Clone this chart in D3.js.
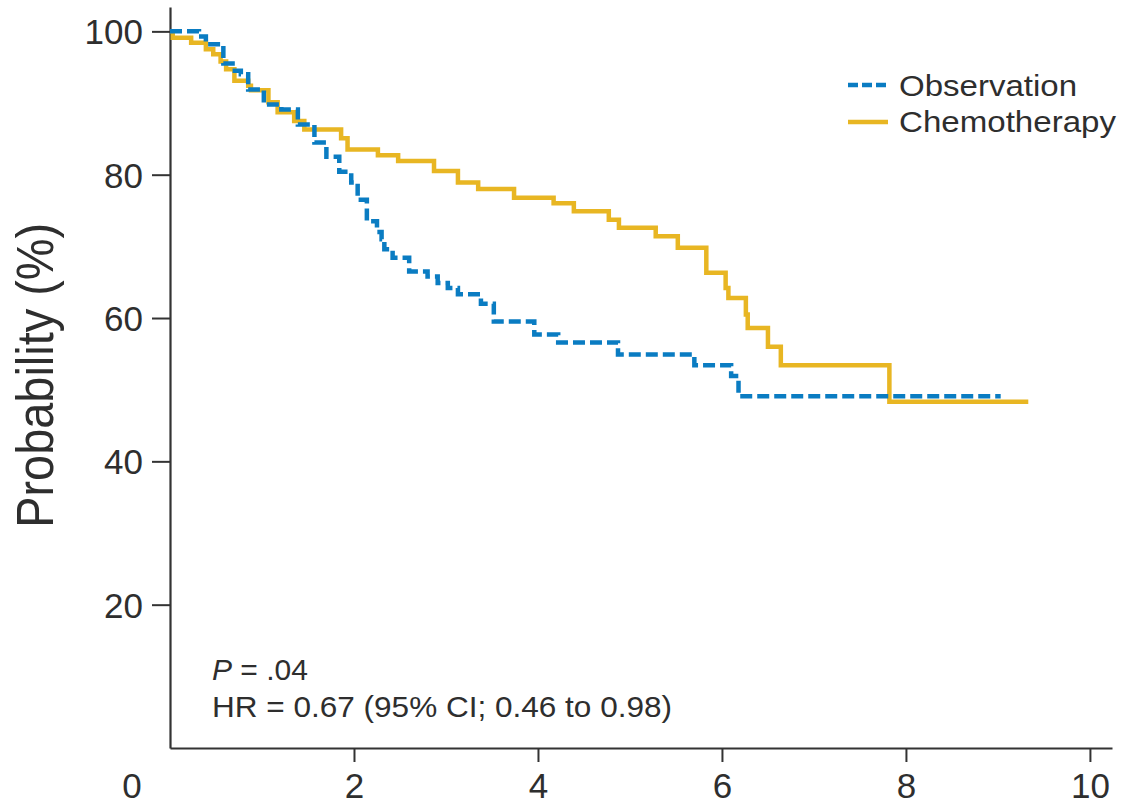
<!DOCTYPE html>
<html>
<head>
<meta charset="utf-8">
<script src="https://cdn.jsdelivr.net/npm/d3@7"></script>
<style>
  html, body { margin: 0; padding: 0; background: #fff; }
  svg { display: block; }
  text { font-family: "Liberation Sans", Arial, Helvetica, sans-serif; fill: #2e2e2e; }
</style>
</head>
<body>
<svg id="chart" width="1122" height="805"></svg>
<script>
// ---- Data ----
const obsTimes = [0, 0.315, 0.39, 0.58, 0.68, 0.77, 0.85, 1.02, 1.21, 1.39, 1.57, 1.70, 1.84, 1.97, 2.04, 2.14, 2.25, 2.30, 2.33, 2.42, 2.60, 2.80, 2.91, 3.02, 3.13, 3.38, 3.52, 3.96, 4.22, 4.87, 5.70, 6.10, 6.18, 9.03];
const obsValues = [100, 99.3, 98.2, 95.5, 94.5, 94.0, 91.9, 89.8, 89.1, 87.0, 84.5, 82.5, 80.4, 78.9, 76.5, 73.5, 72.0, 71.0, 69.6, 68.4, 66.5, 65.8, 64.9, 64.2, 63.3, 62.0, 59.5, 57.7, 56.6, 54.9, 53.4, 51.9, 49.1, 49.1];

const chemoTimes = [0, 0.03, 0.23, 0.39, 0.47, 0.55, 0.61, 0.70, 0.85, 0.88, 1.07, 1.17, 1.35, 1.46, 1.86, 1.93, 2.26, 2.48, 2.87, 3.13, 3.35, 3.74, 4.17, 4.39, 4.77, 4.88, 5.28, 5.52, 5.83, 6.04, 6.07, 6.26, 6.28, 6.50, 6.64, 7.82, 9.33];
const chemoValues = [100, 99.1, 98.4, 97.5, 96.8, 95.8, 94.7, 93.1, 92.4, 91.8, 90.1, 88.7, 87.5, 86.3, 85.1, 83.5, 82.7, 81.9, 80.5, 78.9, 78.0, 76.8, 76.0, 74.9, 73.7, 72.6, 71.4, 69.8, 66.3, 64.2, 62.8, 60.5, 58.6, 56.0, 53.4, 48.3, 48.3];

const seriesNames = ["Observation", "Chemotherapy"];
const xTicks = [2, 4, 6, 8, 10];
const yTicks = [20, 40, 60, 80, 100];
const xLabelZero = "0";
const yAxisTitle = "Probability (%)";
const statP = ".04";
const statHR = "HR = 0.67 (95% CI; 0.46 to 0.98)";

// ---- Layout ----
const svg = d3.select("#chart");
const axisColor = "#333333";
const blue = "#0a7cc2";
const yellow = "#e8b623";

const x = d3.scaleLinear().domain([0, 10.24]).range([170, 1112]);
const y = d3.scaleLinear().domain([0, 103.4]).range([748, 7]);

// Axes
const xAxis = d3.axisBottom(x).tickValues(xTicks).tickSize(14).tickPadding(12).tickSizeOuter(0).tickFormat(d3.format("d"));
const gx = svg.append("g").attr("transform", `translate(0,${y(0)})`).call(xAxis);
gx.select(".domain").attr("stroke", axisColor).attr("stroke-width", 2.2);
gx.selectAll(".tick line").attr("stroke", axisColor).attr("stroke-width", 2);
gx.selectAll(".tick text").attr("font-size", 35).attr("dy", null).attr("y", 50)
  .style("font-family", "'Liberation Sans', Arial, sans-serif").attr("fill", "#2e2e2e");

const yAxis = d3.axisLeft(y).tickValues(yTicks).tickSize(18).tickPadding(9).tickSizeOuter(0).tickFormat(d3.format("d"));
const gy = svg.append("g").attr("transform", `translate(${x(0)},0)`).call(yAxis);
gy.select(".domain").attr("stroke", axisColor).attr("stroke-width", 2.2);
gy.selectAll(".tick line").attr("stroke", axisColor).attr("stroke-width", 2);
gy.selectAll(".tick text").attr("font-size", 35).attr("dy", "0.36em")
  .style("font-family", "'Liberation Sans', Arial, sans-serif").attr("fill", "#2e2e2e");

// Lone "0" label at lower-left
svg.append("text")
  .attr("x", x(0) - 38).attr("y", y(0) + 50)
  .attr("text-anchor", "middle").attr("font-size", 35)
  .text(xLabelZero);

// Y axis title
svg.append("text")
  .attr("transform", `translate(53,${y(52)}) rotate(-90)`)
  .attr("text-anchor", "middle")
  .attr("font-size", 52)
  .attr("textLength", 305).attr("lengthAdjust", "spacingAndGlyphs")
  .text(yAxisTitle);

// Curves
const line = d3.line()
  .x(d => x(d[0]))
  .y(d => y(d[1]))
  .curve(d3.curveStepAfter);

const chemoData = chemoTimes.map((t, i) => [t, chemoValues[i]]);
const obsData = obsTimes.map((t, i) => [t, obsValues[i]]);

svg.append("path").datum(chemoData)
  .attr("d", line).attr("fill", "none")
  .attr("stroke", yellow).attr("stroke-width", 4.5)
  .attr("stroke-linejoin", "miter");

svg.append("path").datum(obsData)
  .attr("d", line).attr("fill", "none")
  .attr("stroke", blue).attr("stroke-width", 4.5)
  .attr("stroke-dasharray", "12,5")
  .attr("stroke-linejoin", "miter");

// Legend
const legend = svg.append("g");
const legendItems = [
  { name: seriesNames[0], color: blue, dash: "10,4", ly: 85, ty: 96, len: 178 },
  { name: seriesNames[1], color: yellow, dash: null, ly: 122, ty: 132, len: 217 }
];
legendItems.forEach(it => {
  legend.append("line")
    .attr("x1", 848).attr("x2", 888)
    .attr("y1", it.ly).attr("y2", it.ly)
    .attr("stroke", it.color).attr("stroke-width", 4.5)
    .attr("stroke-dasharray", it.dash);
  legend.append("text")
    .attr("x", 899).attr("y", it.ty)
    .attr("font-size", 29)
    .attr("textLength", it.len).attr("lengthAdjust", "spacingAndGlyphs")
    .text(it.name);
});

// Stats annotation
const pText = svg.append("text").attr("x", 212).attr("y", 680).attr("font-size", 30);
pText.append("tspan").attr("font-style", "italic").text("P");
pText.append("tspan").text(" = " + statP);

svg.append("text").attr("x", 212).attr("y", 717).attr("font-size", 30)
  .attr("textLength", 460).attr("lengthAdjust", "spacingAndGlyphs")
  .text(statHR);
</script>
</body>
</html>
